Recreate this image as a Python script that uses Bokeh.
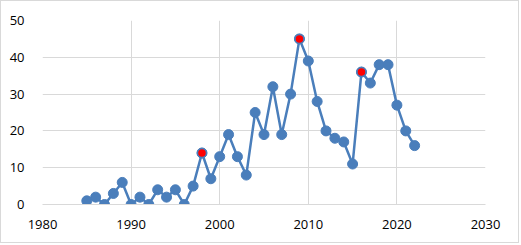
from bokeh.plotting import figure
from bokeh.models import Range1d, FixedTicker, ColumnDataSource
from bokeh.embed import file_html
from bokeh.resources import INLINE

years = list(range(1985, 2023))
values = [1, 2, 0, 3, 6, 0, 2, 0, 4, 2, 4, 0, 5, 14, 7, 13, 19, 13, 8, 25,
          19, 32, 19, 30, 45, 39, 28, 20, 18, 17, 11, 36, 33, 38, 38, 27, 20, 16]
highlight_years = [1998, 2009, 2016]
highlight_values = [values[years.index(y)] for y in highlight_years]

x_ticks = [1980, 1990, 2000, 2010, 2020, 2030]
y_ticks = [0, 10, 20, 30, 40, 50]

p = figure(width=519, height=243, output_backend="svg", toolbar_location=None,
           x_range=Range1d(1980, 2030), y_range=Range1d(0, 50),
           min_border_left=41, min_border_right=35, min_border_top=19, min_border_bottom=40)
p.styles = {"border": "1px solid #d9d9d9"}
p.outline_line_color = None
p.background_fill_color = "white"
p.border_fill_color = "white"

for ax in (p.xaxis[0], p.yaxis[0]):
    ax.major_tick_line_color = None
    ax.minor_tick_line_color = None
    ax.major_label_text_font = "Open Sans"
    ax.major_label_text_font_size = "13px"
    ax.major_label_text_color = "#000000"
p.xaxis.ticker = FixedTicker(ticks=x_ticks)
p.yaxis.ticker = FixedTicker(ticks=y_ticks)
p.xaxis.axis_line_color = "#d9d9d9"
p.yaxis.axis_line_color = None
p.xaxis.major_label_standoff = 9
p.yaxis.major_label_standoff = 12

p.xgrid.ticker = FixedTicker(ticks=x_ticks)
p.ygrid.ticker = FixedTicker(ticks=y_ticks)
p.grid.grid_line_color = "#d9d9d9"
p.grid.grid_line_width = 1

src = ColumnDataSource(dict(x=years, y=values))
p.line("x", "y", source=src, line_color="#4a7ebb", line_width=2.5)
p.scatter("x", "y", source=src, size=10, fill_color="#4a7ebb", line_color="#4a7ebb")
p.scatter(highlight_years, highlight_values, size=9, fill_color="#ff0000",
          line_color="#4a7ebb", line_width=1.5)

open("out.html", "w").write(file_html(p, INLINE))
